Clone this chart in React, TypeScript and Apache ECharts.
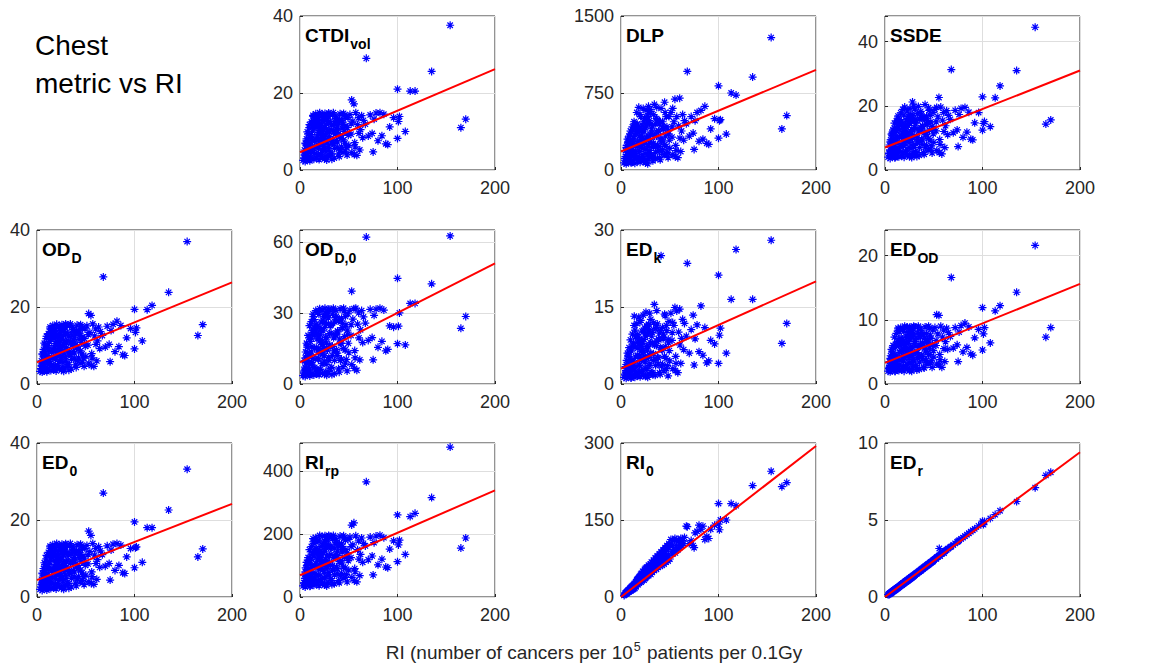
import React, { useEffect, useRef } from "react";
import * as echarts from "echarts";

// Shared x values: RI (number of cancers per 10^5 patients per 0.1Gy)
const RI = [
  3.2,4.1,4.6,5.3,5.8,6.2,6.7,7.1,7.6,8.3,8.8,9.2,9.7,10.1,10.6,11.2,11.7,12.3,12.8,13.1,13.6,14.2,14.7,15.3,5.1,7.4,9.4,11.4,13.4,6.4,10.4,14.4,
  15.1,16.2,16.7,17.1,17.6,18.2,18.7,19.1,19.6,20.2,20.7,21.1,21.6,22.3,22.8,23.1,23.6,24.2,24.7,25.1,25.6,26.3,26.8,27.1,27.7,28.2,28.6,29.1,29.6,30.2,17.4,19.4,21.4,23.4,25.3,27.4,29.4,18.4,22.4,26.4,
  30.6,31.2,32.1,33.3,34.2,35.1,36.3,37.2,38.1,39.3,40.2,41.1,42.3,43.2,44.1,45.3,46.2,47.1,48.3,49.2,50.1,32.7,34.7,36.7,38.7,40.7,42.7,44.7,46.7,48.7,35.6,41.4,
  51.2,52.3,53.1,54.2,55.3,56.1,57.2,58.3,59.1,60.2,61.3,62.1,63.2,64.3,65.1,55.7,
  67,70,72,74,75,76,78,80,82,84,86,88,90,92,96,100,101,102,108,
  53,68,100,113,118,135,154,165,170,
  4.5,5.5,6.5,7.5,8.5,9.5,10.5,11.5,12.5,13.5,
  14.5,15.5,16.5,17.5,18.5,19.5,20.5,21.5,22.5,23.5,
  24.5,25.5,26.5,27.5,28.5,29.5,30.5,31.5,32.5,33.5,
  34.5,35.5,36.5,37.5,38.5,39.5,40.5,41.5,42.5,43.5,
  44.5,45.5,46.5,47.5,48.5,49.5,52.5,56.5,60.5,8.2,
  11.8,15.2,18.8,21.2,24.8,27.2,30.8,33.2,36.8,12.2,
  16.8,19.2,23.2,26.8,28.2,31.8,38.2,43.8,9.8,20.8,
];

const CTDIvol = [
  2.5,3.1,5.2,2.2,6.8,3.8,8.1,2.6,5.5,9.4,3.3,6.2,11.8,2.4,8.6,4.7,12.5,3.0,10.1,5.8,13.9,2.8,7.4,11.2,4.1,7.6,3.6,9.2,14.2,5.0,6.5,12.9,
  4.3,14.6,7.9,3.0,11.4,13.8,5.6,9.7,2.7,14.9,6.9,4.1,12.2,8.5,14.4,3.4,10.6,13.1,6.1,2.9,14.7,9.1,4.8,11.9,7.3,14.1,3.6,12.6,5.4,9.9,8.8,13.3,10.3,6.6,11.0,2.6,14.8,3.9,7.8,13.6,
  14.5,4.2,11.7,7.6,14.9,3.1,9.4,13.0,5.9,12.3,3.5,14.6,8.2,10.9,4.6,14.2,7.0,11.5,3.9,13.6,6.4,2.8,6.8,14.0,10.2,8.8,12.8,14.7,4.9,9.7,12.0,5.3,
  14.4,9.3,4.6,12.7,17.2,7.1,14.9,3.8,11.8,13.6,5.2,10.5,14.1,8.4,12.9,4.0,
  11.9,8.8,14.3,9.5,4.7,13.2,14.8,7.6,14.9,8.9,14.5,6.8,6.6,11.2,13.6,8.2,12.6,13.9,10.0,
  18.2,29,21,20.5,20.5,25.6,37.6,11,13.2,
  3.9,7.0,4.4,9.9,6.0,11.0,3.2,8.0,12.0,4.6,
  10.8,6.0,13.0,4.0,12.4,7.4,9.3,11.6,5.0,13.6,
  8.0,12.9,3.5,10.4,13.9,6.3,8.7,12.1,4.2,14.3,
  9.9,5.6,13.4,7.7,11.2,4.2,13.1,9.0,6.0,12.5,
  7.8,10.0,13.8,5.9,11.0,9.0,12.0,6.0,9.5,7.2,
  5.0,12.0,8.0,10.0,5.5,9.5,12.6,7.0,10.7,8.3,
  11.5,6.0,9.0,14.0,8.0,10.5,7.3,11.8,5.3,11.4,
];

const DLP = [
  70,110,190,60,240,95,300,80,170,330,120,210,380,75,260,140,420,90,310,180,450,65,230,360,130,270,100,290,470,150,200,410,
  140,560,260,90,420,610,180,330,75,520,240,120,440,290,600,95,380,500,200,70,580,310,150,460,230,620,110,480,170,350,280,540,390,210,410,60,590,130,250,510,
  570,140,430,260,640,110,330,490,190,450,100,600,280,400,150,560,230,420,120,520,210,90,240,610,380,300,470,660,160,350,450,180,
  560,320,150,470,690,240,520,120,430,700,180,380,540,290,480,130,
  450,330,520,360,200,480,560,280,580,300,620,260,250,400,500,310,480,490,350,
  600,960,820,750,730,905,1290,400,530,
  130,220,90,280,170,350,70,250,390,120,
  340,180,450,110,400,220,300,380,150,470,
  260,430,90,330,550,190,280,400,130,540,
  330,170,500,240,380,120,470,290,200,420,
  250,330,520,170,380,290,420,190,310,200,
  160,420,260,340,160,310,450,220,370,280,
  370,180,290,520,250,360,230,400,160,390,
];

const SSDE = [
  4.0,5.2,7.8,3.6,9.4,5.9,11.2,4.3,8.1,12.5,5.0,9.0,14.6,3.8,11.7,6.8,15.3,4.5,13.0,8.3,16.2,4.1,10.2,14.0,6.3,10.8,5.5,12.1,16.8,7.2,9.6,15.7,
  6.2,17.8,10.6,4.3,14.4,18.9,7.9,12.8,4.0,19.6,9.4,5.8,15.6,11.3,18.4,4.8,13.9,16.7,8.6,4.2,19.2,12.0,6.7,15.1,10.0,21.2,5.1,16.0,7.6,13.2,11.6,17.1,13.6,9.0,14.7,3.9,19.9,5.5,10.4,16.9,
  19.0,5.7,15.4,10.1,19.8,4.6,12.5,17.2,8.0,16.1,4.9,20.4,11.0,14.2,6.3,18.6,9.4,15.0,5.3,17.9,8.6,4.2,9.0,18.3,13.5,11.7,16.8,19.4,6.6,12.9,15.8,7.1,
  18.9,12.2,6.1,16.6,22.6,9.5,19.6,5.0,15.5,17.9,7.0,13.8,18.5,11.0,17.0,5.4,
  15.8,11.6,18.6,12.5,7.3,17.3,19.2,10.2,19.5,11.8,18.0,9.6,9.4,14.7,17.9,12.4,14.5,15.1,13.5,
  19.5,31.3,22.8,22.5,26.2,31,44.5,14.3,15.6,
  5.3,8.8,4.6,11.5,7.2,13.0,4.0,9.8,13.8,5.6,
  12.6,7.3,15.0,5.0,14.5,9.0,11.2,13.9,6.3,16.0,
  9.8,15.3,4.6,12.6,17.0,7.9,10.7,14.6,5.4,17.6,
  12.2,7.0,16.4,9.6,13.8,5.4,16.0,11.2,7.7,15.4,
  9.8,12.4,17.0,7.5,13.6,11.3,15.0,8.0,12.0,9.0,
  6.5,14.6,10.0,12.4,7.0,11.8,15.4,8.8,13.2,10.3,
  14.0,7.6,11.2,17.2,10.0,13.0,9.3,14.6,6.6,14.0,
];

const OD_D = [
  3.3,4.0,6.0,3.1,7.6,4.6,9.0,3.4,6.4,10.2,4.1,7.1,12.4,3.2,9.5,5.5,13.1,3.8,11.0,6.7,14.3,3.5,8.3,12.0,4.9,8.5,4.4,10.0,14.8,5.8,7.4,13.6,
  5.0,15.2,8.8,3.7,12.1,14.5,6.4,10.5,3.4,15.5,7.6,4.8,12.9,9.3,15.1,4.1,11.3,13.8,6.9,3.6,15.4,9.9,5.6,12.6,8.1,14.8,4.3,13.3,6.2,10.7,9.6,14.0,11.0,7.4,11.7,3.3,15.6,4.6,8.6,14.3,
  15.2,5.0,12.4,8.4,15.6,3.9,10.2,13.7,6.7,13.0,4.3,15.3,9.0,11.6,5.4,14.9,7.8,12.2,4.6,14.3,7.2,3.6,7.6,14.7,10.9,9.6,13.5,15.4,5.7,10.4,12.7,6.1,
  15.1,10.1,5.4,13.4,17.8,7.9,15.6,4.6,12.5,14.3,6.0,11.2,14.8,9.2,13.6,4.8,
  12.6,9.6,15.0,10.3,5.8,13.9,15.5,8.4,16.3,9.7,15.2,7.6,7.4,12.0,14.4,9.1,13.4,14.6,11.2,
  18.3,27.8,19.4,19.3,20.4,23.8,37,12.6,15.4,
  4.7,7.8,5.1,10.6,6.8,11.8,3.9,8.8,12.8,5.3,
  11.6,6.8,13.8,4.7,13.2,8.2,10.1,12.4,5.8,14.4,
  8.8,13.7,4.2,11.2,14.7,7.1,9.5,12.9,5.0,15.1,
  10.7,6.4,14.2,8.5,12.0,5.0,13.9,9.8,6.8,13.3,
  8.6,10.8,14.6,6.7,11.8,9.8,12.8,6.8,10.3,8.0,
  5.8,12.8,8.8,10.8,6.3,10.3,13.4,7.8,11.5,9.1,
  12.3,6.8,9.8,14.8,8.8,11.3,8.1,12.6,6.1,12.2,
];

const OD_D0 = [
  3.5,5.0,9.8,3.2,13.5,6.6,17.2,4.0,11.0,20.5,5.5,13.0,24.6,3.4,18.0,8.5,26.3,4.3,21.7,10.8,28.4,3.8,15.0,24.0,7.1,15.6,6.0,19.4,29.5,8.9,12.6,27.2,
  7.0,31.0,15.5,4.2,24.2,30.2,10.6,20.3,3.9,31.8,13.4,6.3,26.1,17.8,31.3,4.6,22.4,28.6,11.9,4.1,32.0,19.6,8.3,25.5,14.8,30.8,5.2,27.9,9.9,21.3,18.9,29.4,23.1,12.7,23.9,3.7,31.5,5.7,16.6,29.9,
  31.4,6.6,25.2,15.9,32.0,4.4,20.6,28.5,12.0,26.7,5.0,31.7,17.1,23.8,7.3,30.9,14.4,25.0,5.5,29.6,13.2,4.0,14.0,31.0,22.0,18.9,27.8,32.0,8.8,21.0,26.2,10.0,
  31.2,20.5,8.2,27.4,31.8,14.1,32.0,5.8,25.3,30.0,10.2,22.9,31.0,17.5,28.3,6.6,
  25.7,18.4,31.5,19.6,10.2,29.0,31.6,15.5,32.0,18.0,31.2,14.0,14.6,24.5,24.0,17.0,24.4,30.0,16.5,
  39.2,62,44.6,34,34,42.3,62.5,23.5,28.5,
  5.5,11.0,6.2,16.5,9.0,19.5,4.2,13.5,22.5,7.0,
  20.8,10.5,25.3,6.0,24.0,13.5,18.2,22.7,8.6,27.0,
  15.0,26.0,5.0,19.8,29.0,11.2,16.5,24.8,7.0,29.5,
  19.5,10.0,28.0,14.5,22.4,6.4,27.2,17.4,10.5,25.6,
  15.0,20.0,28.5,10.4,22.7,17.2,25.0,11.0,19.5,12.0,
  9.0,23.4,14.4,18.7,9.6,17.3,24.6,12.0,20.8,15.8,
  21.6,10.8,16.9,28.7,14.3,21.5,13.0,23.8,8.5,21.0,
];

const ED_k = [
  1.3,1.8,3.4,1.1,4.6,2.2,6.0,1.4,3.9,7.1,1.9,4.8,8.6,1.2,6.4,2.8,9.7,1.5,8.0,3.7,13.2,1.3,5.3,9.2,2.6,5.6,2.1,7.3,11.4,3.1,4.5,10.5,
  2.4,11.8,5.6,1.6,9.1,13.0,3.6,7.8,1.4,12.4,5.0,2.3,10.3,6.6,13.4,1.7,8.7,10.9,4.3,1.5,14.0,7.3,3.0,9.8,5.3,11.6,2.0,10.6,3.9,8.0,7.0,12.0,8.4,4.7,9.3,1.3,13.8,2.5,6.2,11.2,
  12.6,2.2,10.0,5.9,15.5,1.7,7.5,11.7,3.9,9.9,1.9,25.0,6.6,8.8,2.6,13.3,5.0,10.4,1.6,12.2,4.5,1.8,4.8,14.3,8.6,7.1,11.0,13.6,3.0,8.0,10.8,3.5,
  13.8,8.5,3.0,11.4,14.9,5.4,14.2,2.2,10.1,14.6,4.0,8.9,12.6,6.7,11.8,2.6,
  9.3,6.0,10.6,13.4,3.7,8.8,11.5,6.3,15.2,5.6,11.0,4.1,4.5,8.5,7.8,4.0,9.5,10.9,6.0,
  12.0,23.5,21.2,16.5,26.2,16.5,28,7.9,11.8,
  2.0,3.8,1.6,5.4,2.9,6.6,1.2,4.3,7.6,1.9,
  7.2,3.4,9.6,1.8,8.8,4.6,6.4,8.2,2.7,10.3,
  5.3,9.9,1.6,7.4,11.6,3.6,6.0,9.3,2.2,11.9,
  7.6,3.6,11.0,5.2,8.8,2.2,10.4,6.8,3.8,9.7,
  5.4,7.3,11.4,3.6,8.7,6.5,10.0,4.0,7.6,3.6,
  3.0,9.3,5.5,7.4,3.1,6.6,10.1,4.6,8.3,4.4,
  8.1,3.7,6.2,11.3,5.2,8.0,5.1,9.1,3.0,7.8,
];

const ED_OD = [
  2.0,2.4,3.5,1.9,4.4,2.7,5.4,2.1,3.8,6.0,2.5,4.5,7.3,2.0,5.7,3.2,7.9,2.2,6.6,3.9,8.4,2.1,4.9,7.1,2.9,5.0,2.6,6.1,8.7,3.4,4.2,8.1,
  3.0,8.8,5.2,2.2,7.0,8.5,3.8,6.2,2.0,9.0,4.5,2.8,7.5,5.4,8.9,2.4,6.6,8.0,4.1,2.1,8.9,5.8,3.3,7.4,4.8,8.7,2.5,7.8,3.6,6.3,5.6,8.2,6.5,4.3,6.9,2.0,9.0,2.7,5.1,8.4,
  8.9,2.9,7.2,4.9,9.0,2.3,6.0,8.0,3.9,7.6,2.5,8.9,5.3,6.7,3.1,8.7,4.6,7.1,2.6,8.4,4.2,2.2,4.4,8.6,6.4,5.6,7.9,9.0,3.3,6.1,7.4,3.6,
  8.8,6.0,3.1,7.8,10.7,4.6,9.0,2.6,7.3,8.4,3.5,6.6,8.7,5.4,8.0,3.0,
  7.4,5.6,8.8,6.1,3.5,8.1,9.1,5.0,9.5,5.7,8.9,4.7,4.5,7.2,8.5,5.3,7.8,8.8,6.4,
  10.8,16.6,11.9,11.4,12.2,14.3,21.6,7.3,8.8,
  2.6,4.0,2.4,5.3,3.3,5.9,2.0,4.4,6.4,2.7,
  6.0,3.7,7.0,2.5,6.7,4.4,5.4,6.4,3.1,7.3,
  4.7,7.1,2.2,5.8,7.8,3.8,4.9,6.6,2.6,8.1,
  5.7,3.4,7.4,4.4,6.3,2.6,7.2,5.1,3.6,6.9,
  4.6,5.6,7.6,3.6,6.1,5.2,6.8,3.8,5.5,3.9,
  3.2,6.6,4.5,5.6,3.3,5.3,7.0,4.1,6.0,4.4,
  6.3,3.6,5.1,7.9,4.5,5.9,4.3,6.4,3.1,6.1,
];

const ED_0 = [
  2.0,2.6,4.6,1.7,6.0,3.2,7.4,2.1,4.9,8.5,2.8,5.5,10.8,1.8,7.8,4.1,11.6,2.4,9.2,5.2,12.7,2.2,6.7,10.3,3.6,6.9,3.1,8.4,13.2,4.4,5.8,12.0,
  3.7,13.6,7.1,2.4,10.5,12.9,4.9,8.9,2.1,13.9,6.2,3.5,11.3,7.8,13.4,2.8,9.8,12.2,5.5,2.3,13.7,8.4,4.2,11.0,6.6,13.1,3.0,11.8,4.8,9.2,8.1,12.4,9.5,6.0,10.2,2.0,13.8,3.3,7.2,12.7,
  13.5,3.6,10.9,6.9,13.9,2.6,8.7,12.1,5.2,11.4,2.9,13.6,7.5,10.1,3.9,13.2,6.3,10.7,3.2,12.6,5.7,2.3,6.1,13.0,9.4,8.1,11.9,13.7,4.3,9.0,11.2,4.7,
  13.4,8.6,4.0,11.8,16.0,6.5,13.9,3.3,10.9,12.6,4.6,9.7,13.1,7.7,12.0,3.5,
  11.0,8.0,13.3,8.7,4.4,12.2,13.7,6.9,13.9,8.2,13.5,6.3,6.1,10.4,12.6,7.6,12.8,13.0,9.0,
  17.1,27,19.5,18,18,22.6,33.2,10.4,12.5,
  3.2,6.2,3.8,8.9,5.3,9.9,2.5,7.2,10.9,3.9,
  9.8,5.3,11.9,3.3,11.3,6.6,8.4,10.6,4.3,12.5,
  7.2,11.8,2.8,9.4,12.8,5.6,7.8,11.1,3.5,13.2,
  8.9,4.9,12.3,6.9,10.3,3.6,12.0,8.2,5.3,11.5,
  7.0,9.1,12.7,5.2,10.1,8.2,11.0,5.3,8.7,6.4,
  4.2,11.0,7.2,9.1,4.8,8.6,11.6,6.2,9.8,7.4,
  10.5,5.3,8.1,12.9,7.2,9.6,6.5,10.8,4.5,10.4,
];

const RI_rp = [
  35,45,70,32,92,52,110,38,78,125,48,88,150,34,115,62,160,42,135,75,175,37,98,140,58,100,50,120,185,66,85,170,
  60,188,105,40,150,178,72,130,36,195,90,55,160,112,192,44,140,170,80,38,194,120,65,155,96,190,47,165,70,132,118,180,138,86,145,35,195,52,102,175,
  192,58,158,100,195,42,125,172,75,162,45,193,108,142,60,188,92,150,48,182,85,40,90,186,132,112,168,194,62,128,155,68,
  190,125,62,165,235,90,194,48,150,178,68,135,187,110,170,52,
  162,118,190,130,70,172,193,102,196,120,188,95,93,152,178,112,165,180,135,
  228,365,260,255,265,315,475,155,187,
  45,80,42,110,65,125,35,95,140,48,
  130,75,155,45,150,92,118,145,60,165,
  100,158,40,130,180,78,108,155,52,185,
  125,70,175,95,145,52,170,115,75,160,
  95,125,180,72,140,115,160,80,120,70,
  58,150,95,125,60,115,160,85,135,100,
  140,68,110,182,95,135,90,150,55,135,
];

const RI_0 = [
  3,5,8,6,10,7,12,9,14,10,16,12,18,12,20,14,22,15,24,16,26,17,27,20,8,11,15,19,23,9,14,25,
  22,34,26,36,24,38,27,40,30,44,29,46,32,50,35,48,33,54,36,56,38,58,40,52,42,62,44,60,46,64,30,34,40,44,48,55,58,28,36,50,
  44,68,48,72,52,76,54,80,58,84,60,88,62,92,64,96,68,100,70,104,74,60,62,70,74,78,84,86,92,96,66,72,
  112,84,110,88,114,90,112,92,108,96,114,100,110,104,116,86,
  138,104,110,100,96,125,128,140,132,138,112,118,114,132,140,142,131,150,150,
  100,137,182,182,178,217,245,215,223,
  7,9,11,13,14,17,15,20,19,23,
  24,28,26,32,30,36,34,42,38,46,
  40,50,44,54,48,58,50,62,54,66,
  56,72,60,78,64,82,68,86,72,90,
  74,94,78,98,82,102,90,100,106,12,
  18,26,34,38,46,50,58,60,64,21,
  30,38,44,48,52,60,70,80,16,40,
];

const ED_r = [
  0.15,0.2,0.17,0.25,0.22,0.3,0.27,0.34,0.31,0.39,0.36,0.44,0.41,0.49,0.45,0.53,0.5,0.58,0.55,0.63,0.6,0.68,0.65,0.72,0.24,0.33,0.43,0.52,0.62,0.29,0.47,0.66,
  0.7,0.78,0.74,0.83,0.79,0.88,0.84,0.93,0.88,0.98,0.93,1.03,0.98,1.08,1.02,1.12,1.07,1.17,1.12,1.22,1.16,1.27,1.21,1.31,1.26,1.36,1.3,1.41,1.35,1.45,0.81,0.9,1.0,1.1,1.19,1.29,1.38,0.86,1.05,1.24,
  1.42,1.5,1.55,1.6,1.65,1.7,1.74,1.8,1.84,1.9,1.94,1.99,2.04,2.08,2.14,2.18,2.23,2.28,2.32,2.38,2.42,1.52,1.62,1.72,1.81,1.92,2.01,2.11,2.2,2.3,1.68,1.96,
  2.48,2.52,2.58,2.62,2.68,2.72,2.78,2.82,2.87,2.92,2.97,3.02,3.06,3.12,3.16,3.15,
  3.24,3.38,3.48,3.58,3.62,3.68,3.77,3.86,3.95,4.05,4.14,4.24,4.33,4.43,4.62,4.8,4.7,4.9,5.1,
  2.56,3.28,4.92,5.35,5.6,6.2,7.1,7.9,8.1,
  0.21,0.26,0.3,0.36,0.4,0.44,0.5,0.54,0.59,0.63,
  0.68,0.73,0.77,0.83,0.87,0.92,0.96,1.02,1.06,1.1,
  1.15,1.2,1.25,1.3,1.34,1.39,1.44,1.49,1.53,1.58,
  1.62,1.67,1.72,1.77,1.81,1.86,1.9,1.96,2.0,2.05,
  2.09,2.14,2.19,2.24,2.28,2.33,2.47,2.66,2.85,0.39,
  0.56,0.71,0.89,1.0,1.17,1.28,1.45,1.56,1.73,0.57,
  0.79,0.9,1.09,1.26,1.33,1.5,1.8,2.06,0.46,0.98,
];

// Linear fit end points [y at RI=0, y at RI=200]
const FIT_CTDIvol = [4.6, 26.2];
const FIT_DLP = [180, 975];
const FIT_SSDE = [7.0, 31.0];
const FIT_OD_D = [5.6, 26.4];
const FIT_OD_D0 = [9.1, 50.9];
const FIT_ED_k = [3.0, 20.0];
const FIT_ED_OD = [3.3, 15.6];
const FIT_ED_0 = [4.4, 24.2];
const FIT_RI_rp = [69, 338];
const FIT_RI_0 = [0, 294];
const FIT_ED_r = [0, 9.4];

// Panel names (main, subscript)
const NAMES = [
  ["CTDI", "vol"], ["DLP", ""], ["SSDE", ""],
  ["OD", "D"], ["OD", "D,0"], ["ED", "k"], ["ED", "OD"],
  ["ED", "0"], ["RI", "rp"], ["RI", "0"], ["ED", "r"],
];
// y-axis max / tick interval per panel
const Y_MAX = [40, 1500, 48, 40, 65, 30, 24, 40, 488, 300, 10];
const Y_STEP = [20, 750, 20, 20, 30, 15, 10, 20, 200, 150, 5];
const X_TICKS = [0, 100, 200];

const SERIES_Y = [CTDIvol, DLP, SSDE, OD_D, OD_D0, ED_k, ED_OD, ED_0, RI_rp, RI_0, ED_r];
const FITS = [FIT_CTDIvol, FIT_DLP, FIT_SSDE, FIT_OD_D, FIT_OD_D0, FIT_ED_k, FIT_ED_OD, FIT_ED_0, FIT_RI_rp, FIT_RI_0, FIT_ED_r];

// layout
const COL_LEFT = [37, 300, 621, 885];
const ROW_TOP = [16, 230, 443];
const PW = 195;
const PH = 154;
const CELLS = [
  [0, 1], [0, 2], [0, 3],
  [1, 0], [1, 1], [1, 2], [1, 3],
  [2, 0], [2, 1], [2, 2], [2, 3],
];

const FONT = "'Liberation Sans', Arial, Helvetica, sans-serif";
const AXIS_COLOR = "#262626";
const STAR = "path://M5,0L5,10M0,5L10,5M1.6,1.6L8.4,8.4M1.6,8.4L8.4,1.6";

export default function App() {
  const ref = useRef<HTMLDivElement>(null);
  useEffect(() => {
    if (!ref.current) return;
    const chart = echarts.init(ref.current, null, { renderer: "svg" });
    const grids: any[] = [];
    const xAxes: any[] = [];
    const yAxes: any[] = [];
    const series: any[] = [];
    const graphics: any[] = [];

    CELLS.forEach(([r, c], i) => {
      const left = COL_LEFT[c];
      const top = ROW_TOP[r];
      grids.push({
        left, top, width: PW, height: PH,
        show: true, borderColor: AXIS_COLOR, borderWidth: 1, backgroundColor: "#fff",
        containLabel: false,
      });
      xAxes.push({
        type: "value", gridIndex: i, min: X_TICKS[0], max: X_TICKS[2], interval: X_TICKS[1] - X_TICKS[0],
        axisLine: { show: false },
        axisTick: { show: true, inside: true, length: 3, lineStyle: { color: AXIS_COLOR } },
        splitLine: { show: true, lineStyle: { color: "#dedede", width: 1 } },
        axisLabel: { color: AXIS_COLOR, fontSize: 18, fontFamily: FONT, margin: 9 },
      });
      const step = Y_STEP[i];
      yAxes.push({
        type: "value", gridIndex: i, min: 0, max: Y_MAX[i], interval: step,
        axisLine: { show: false },
        axisTick: { show: true, inside: true, length: 3, lineStyle: { color: AXIS_COLOR } },
        splitLine: { show: true, lineStyle: { color: "#dedede", width: 1 } },
        axisLabel: {
          color: AXIS_COLOR, fontSize: 18, fontFamily: FONT, margin: 7,
          formatter: (v: number) => (Math.abs(v / step - Math.round(v / step)) < 1e-9 ? String(v) : ""),
        },
      });
      const ys = SERIES_Y[i];
      series.push({
        type: "scatter", xAxisIndex: i, yAxisIndex: i,
        data: RI.map((x, k) => [x, ys[k]]),
        symbol: STAR, symbolSize: 8,
        itemStyle: { color: "rgba(0,0,0,0)", borderColor: "#0000ff", borderWidth: 1.2, opacity: 1 },
        silent: true,
      });
      series.push({
        type: "line", xAxisIndex: i, yAxisIndex: i,
        data: [[0, FITS[i][0]], [200, FITS[i][1]]],
        showSymbol: false, symbol: "none",
        lineStyle: { color: "#ff0000", width: 2 },
        z: 5, silent: true,
      });
      const [main, sub] = NAMES[i];
      graphics.push({
        type: "text", left: left + 5, top: top + 10, z: 100,
        style: {
          text: sub ? `{m|${main}}{s|${sub}}` : `{m|${main}}`,
          rich: {
            m: { fontSize: 19, fontWeight: "bold", fontFamily: FONT, fill: "#000", verticalAlign: "top", lineHeight: 22 },
            s: { fontSize: 14, fontWeight: "bold", fontFamily: FONT, fill: "#000", verticalAlign: "top", lineHeight: 16, padding: [11, 0, 0, 1] },
          },
        },
      });
    });

    graphics.push({
      type: "text", left: 35, top: 26,
      style: { text: "Chest\nmetric vs RI", fontSize: 28, lineHeight: 38, fontFamily: FONT, fill: "#000" },
    });
    graphics.push({
      type: "text", x: 594, y: 651,
      style: {
        text: "{a|RI (number of cancers per 10}{b|5}{a| patients per 0.1Gy}",
        align: "center", verticalAlign: "middle",
        rich: {
          a: { fontSize: 19, fontFamily: FONT, fill: "#262626", verticalAlign: "bottom", lineHeight: 22 },
          b: { fontSize: 12.5, fontFamily: FONT, fill: "#262626", verticalAlign: "top", lineHeight: 14, padding: [0, 1, 8, 1] },
        },
      },
    });

    chart.setOption({
      animation: false,
      backgroundColor: "#fff",
      grid: grids,
      xAxis: xAxes,
      yAxis: yAxes,
      series,
      graphic: graphics,
    });
    return () => chart.dispose();
  }, []);
  return <div ref={ref} style={{ position: "absolute", left: 0, top: 0, width: 1158, height: 665 }} />;
}
